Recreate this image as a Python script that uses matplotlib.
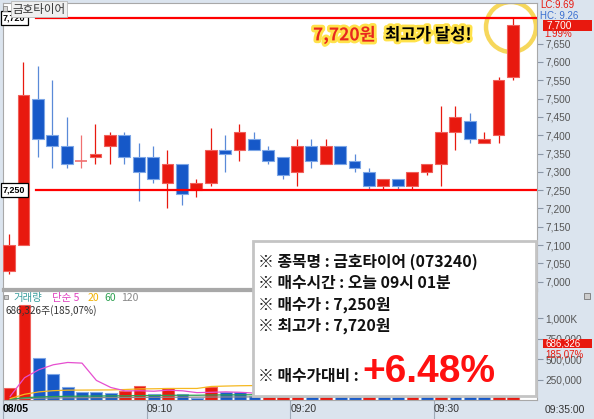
import matplotlib
matplotlib.use("Agg")
import matplotlib.pyplot as plt
import matplotlib.patheffects as pe
from matplotlib.patches import Rectangle, Circle
from matplotlib.transforms import blended_transform_factory

plt.rcParams['font.family'] = ['Noto Sans CJK KR', 'DejaVu Sans']

# 1-minute candles, 09:00 .. 09:35
opens  = [7030, 7100, 7500, 7400, 7370, 7330, 7340, 7370, 7400, 7340, 7340, 7270, 7320, 7250, 7270, 7360, 7360, 7390,
          7360, 7340, 7300, 7370, 7320, 7370, 7330, 7300, 7260, 7280, 7260, 7300, 7320, 7410, 7440, 7380, 7400, 7560]
highs  = [7130, 7600, 7590, 7550, 7450, 7400, 7430, 7410, 7410, 7380, 7370, 7360, 7320, 7280, 7420, 7400, 7430, 7410,
          7370, 7340, 7390, 7390, 7390, 7370, 7350, 7310, 7280, 7280, 7300, 7320, 7480, 7480, 7460, 7410, 7560, 7720]
lows   = [7020, 7100, 7340, 7310, 7310, 7310, 7320, 7320, 7320, 7220, 7270, 7200, 7210, 7230, 7260, 7300, 7330, 7360,
          7320, 7280, 7260, 7310, 7320, 7320, 7300, 7250, 7250, 7250, 7250, 7290, 7260, 7360, 7380, 7380, 7380, 7550]
closes = [7100, 7510, 7390, 7370, 7320, 7330, 7350, 7400, 7340, 7300, 7280, 7320, 7240, 7270, 7360, 7350, 7410, 7360,
          7330, 7290, 7370, 7330, 7370, 7320, 7310, 7260, 7280, 7260, 7300, 7320, 7410, 7450, 7390, 7390, 7550, 7700]

# volume in thousands of shares
volumes = [143, 1158, 508, 321, 162, 101, 101, 81, 110, 174, 70, 146, 70, 20, 158, 101, 94, 49,
           60, 90, 150, 80, 95, 60, 40, 110, 70, 50, 90, 75, 260, 210, 120, 60, 420, 686.326]
ma5   = [45, 272, 370, 430, 458, 450, 239, 153, 111, 113, 107, 120, 112, 90, 94, 99, 94, 84,
         90, 100, 110, 105, 95, 85, 80, 75, 70, 70, 70, 100, 140, 150, 160, 230, 310, 360]
ma20  = [17, 70, 99, 114, 120, 121, 122, 123, 128, 135, 137, 140, 141, 141, 165, 170, 174, 176,
         180, 182, 185, 187, 189, 190, 190, 192, 193, 194, 195, 196, 205, 212, 215, 216, 232, 262]
ma60  = [10, 28, 37, 42, 45, 47, 48, 50, 51, 54, 55, 57, 58, 58, 61, 62, 63, 64,
         65, 66, 68, 69, 70, 71, 71, 72, 73, 73, 74, 75, 79, 82, 84, 85, 91, 102]
ma120 = [8, 18, 22, 25, 27, 28, 29, 30, 31, 32, 33, 34, 34, 35, 36, 37, 37, 38,
         38, 39, 39, 40, 40, 41, 41, 41, 42, 42, 42, 43, 45, 46, 47, 48, 51, 56]

price_ticks = [7000, 7050, 7100, 7150, 7200, 7250, 7300, 7350, 7400, 7450, 7500, 7550, 7600, 7650]
vol_ticks = [250, 500, 750, 1000]
vol_tick_labels = ['250,000', '500,000', '750,000', '1,000K']
time_ticks = [0, 10, 20, 30]
time_labels = ['08/05', '09:10', '09:20', '09:30']

buy_price = 7250
high_price = 7720
last_price = 7700
last_volume = 686.326

RED = '#e8190f'
RED_EDGE = '#f0605a'
BLUE = '#1658c8'
BLUE_EDGE = '#7da6e6'
PANEL = '#dbe4ee'
NUM_FONT = ['Liberation Sans', 'DejaVu Sans']

W, H = 594, 419
fig = plt.figure(figsize=(W / 100, H / 100), dpi=100)
fig.patch.set_facecolor(PANEL)


def px_axes(x0, y0, x1, y1):
    return fig.add_axes([x0 / W, 1 - y1 / H, (x1 - x0) / W, (y1 - y0) / H])


ax_p = px_axes(3, 3, 537, 289)
ax_v = px_axes(3, 291, 537, 400)
xlim = (-0.42, 36.67)

# ---- price panel ----
for i in range(len(opens)):
    o, h, l, c = opens[i], highs[i], lows[i], closes[i]
    up = c >= o
    col = RED if up else BLUE
    edge = RED_EDGE if up else BLUE_EDGE
    if o == c:
        ax_p.vlines(i, l, h, color='#f07070', lw=0.9, zorder=3)
        ax_p.hlines(o, i - 0.41, i + 0.41, color='#f07070', lw=1.2, zorder=3)
        continue
    ax_p.vlines(i, l, h, color=RED if up else '#5a8ad8', lw=0.9, zorder=2)
    ax_p.bar(i, abs(c - o), bottom=min(o, c), width=0.82, color=col,
             edgecolor=edge, linewidth=0.8, zorder=3)

ax_p.set_xlim(*xlim)
ax_p.set_ylim(6980, 7761)
ax_p.set_xticks([])
ax_p.yaxis.tick_right()
ax_p.set_yticks(price_ticks)
ax_p.set_yticklabels([f'{t:,}' for t in price_ticks], family=NUM_FONT, fontsize=7.3, color='#555555')
ax_p.tick_params(axis='y', direction='out', length=4, pad=2, color='#8a96a6', width=0.8)
for s in ['top', 'left', 'right', 'bottom']:
    ax_p.spines[s].set_color('#a8a8a8')
ax_p.spines['bottom'].set_linewidth(1.6)

# level lines with tags
for lvl in [high_price, buy_price]:
    ax_p.axhline(lvl, xmin=33 / 534, xmax=1, color='#ff0000', lw=1.6, zorder=4)
    ax_p.text(0.0, lvl, f'{lvl:,}', transform=blended_transform_factory(ax_p.transAxes, ax_p.transData),
              ha='left', va='center', fontsize=6.5, family=NUM_FONT, fontweight='bold', zorder=6,
              bbox=dict(boxstyle='square,pad=0.25', facecolor='white', edgecolor='black', linewidth=0.9))

# current price tag on the axis
bp = blended_transform_factory(ax_p.transAxes, ax_p.transData)
ax_p.add_patch(Rectangle((1.011, last_price - 15), 0.092, 30, transform=bp, facecolor=RED,
                         edgecolor='none', clip_on=False, zorder=6))
ax_p.text(1.018, last_price, f'{last_price:,}', transform=bp, ha='left', va='center', fontsize=7.3,
          family=NUM_FONT, color='white', clip_on=False, zorder=7)

# ---- volume panel ----
vol_colors = []
for i, v in enumerate(volumes):
    if i == 0 or v > volumes[i - 1]:
        vol_colors.append((RED, RED_EDGE))
    else:
        vol_colors.append((BLUE, BLUE_EDGE))
idx = list(range(len(volumes)))
ax_v.bar(idx, volumes, width=0.82, color=[c[0] for c in vol_colors],
         edgecolor=[c[1] for c in vol_colors], linewidth=0.8, zorder=2)
ax_v.plot(idx, ma120, color='#8c8c8c', lw=0.9, zorder=3)
ax_v.plot(idx, ma60, color='#2ca050', lw=0.9, zorder=3)
ax_v.plot(idx, ma20, color='#f5b820', lw=0.9, zorder=3)
ax_v.plot(idx, ma5, color='#e64fd0', lw=0.9, zorder=3)
ax_v.set_xlim(*xlim)
ax_v.set_ylim(0, 1330)
ax_v.yaxis.tick_right()
ax_v.set_yticks(vol_ticks)
ax_v.set_yticklabels(vol_tick_labels, family=NUM_FONT, fontsize=7.3, color='#555555')
ax_v.tick_params(axis='y', direction='out', length=4, pad=2, color='#8a96a6', width=0.8)
ax_v.set_xticks([t - 0.5 for t in time_ticks])
ax_v.set_xticklabels(time_labels, family=NUM_FONT, fontsize=7.5, color='#333333', ha='left')
ax_v.tick_params(axis='x', direction='out', length=14, pad=-11, color='#a0abb8', width=0.8)
ax_v.get_xticklabels()[0].set_fontweight('bold')
ax_v.get_xticklabels()[0].set_color('black')
for s in ['top', 'left', 'right', 'bottom']:
    ax_v.spines[s].set_color('#a8a8a8')
ax_v.spines['top'].set_linewidth(1.6)

bt = blended_transform_factory(ax_v.transAxes, ax_v.transData)
ax_v.add_patch(Rectangle((1.011, last_volume - 55), 0.092, 110, transform=bt, facecolor=RED,
                         edgecolor='none', clip_on=False, zorder=6))
ax_v.text(1.016, last_volume, '686,326', transform=bt, ha='left', va='center', fontsize=7,
          family=NUM_FONT, color='white', clip_on=False, zorder=7)
ax_v.text(1.016, 560, '185,07%', transform=bt, ha='left', va='center', fontsize=7,
          family=NUM_FONT, color=RED, clip_on=False, zorder=7)

# ---- overlay in pixel coordinates ----
ov = fig.add_axes([0, 0, 1, 1])
ov.set_xlim(0, W)
ov.set_ylim(H, 0)
ov.axis('off')
ov.patch.set_alpha(0)

# highlight ring around the high (kept behind candles)
ring = Circle((511, 27), 25, transform=ov.transData, fill=False, edgecolor='#f6d75c', lw=3.2, zorder=1)
ax_p.add_patch(ring)

# headline
glow = [pe.withStroke(linewidth=4, foreground='#ffe24a')]
ov.text(313, 35, '7,720원', color='#e8281e', fontsize=12.5, fontweight='bold', va='center', ha='left',
        path_effects=glow)
ov.text(385, 35, '최고가 달성!', color='black', fontsize=12, fontweight='bold', va='center', ha='left',
        path_effects=glow)

# name tab
ov.add_patch(Rectangle((3, 6), 4, 5, facecolor='#d8d8d8', edgecolor='#888888', lw=0.6))
ov.text(12, 9, '금호타이어', fontsize=8.3, color='#333333', va='center', ha='left',
        bbox=dict(boxstyle='square,pad=0.12', facecolor='#efefef', edgecolor='#b8b8b8', linewidth=0.6))

# right side header
ov.text(540, 5, 'LC:9.69', fontsize=7, family=NUM_FONT, color=RED, va='center', ha='left')
ov.text(540, 16, 'HC: 9.26', fontsize=7, family=NUM_FONT, color='#3b6fd0', va='center', ha='left', zorder=0)
ov.text(544, 34, '1.99%', fontsize=7, family=NUM_FONT, color=RED, va='center', ha='left')
ov.add_patch(Rectangle((584, 293), 6, 6, facecolor='#cccccc', edgecolor='#777777', lw=0.6))

# volume legend
ov.add_patch(Rectangle((4, 295), 4, 4, facecolor='#cccccc', edgecolor='#888888', lw=0.6))
ov.text(13, 298, '거래량', fontsize=7.5, color='#3a9e9e', va='center', ha='left')
ov.text(52, 298, '단순 5', fontsize=7.5, color='#e040c0', va='center', ha='left')
ov.text(88, 298, '20', fontsize=7.5, color='#f0b000', va='center', ha='left')
ov.text(104, 298, '60', fontsize=7.5, color='#2ca050', va='center', ha='left')
ov.text(121, 298, '120', fontsize=7.5, color='#888888', va='center', ha='left')
ov.text(6, 311, '686,326주(185,07%)', fontsize=7.2, color='#333333', va='center', ha='left')
ov.text(545, 410, '09:35:00', fontsize=7.5, family=NUM_FONT, color='#333333', va='center', ha='left')

# info box
ov.add_patch(Rectangle((253, 241), 283, 155, facecolor='white', edgecolor='#c4c4c4', lw=2, zorder=5))
info_lines = ['※ 종목명 : 금호타이어 (073240)',
              '※ 매수시간 : 오늘 09시 01분',
              '※ 매수가 : 7,250원',
              '※ 최고가 : 7,720원']
for line, y in zip(info_lines, [262, 283, 305, 326]):
    ov.text(258, y, line, fontsize=11.4, fontweight='bold', color='#111111', va='center', ha='left', zorder=6)
ov.text(258, 376, '※ 매수가대비 :', fontsize=11.4, fontweight='bold', color='#111111', va='center', ha='left',
        zorder=6)
ov.text(362, 382, '+6.48%', fontsize=28, fontweight='bold', family=NUM_FONT, color='#ff1010',
        va='baseline', ha='left', zorder=6)

fig.savefig('out.png', dpi=100, facecolor=fig.get_facecolor())
